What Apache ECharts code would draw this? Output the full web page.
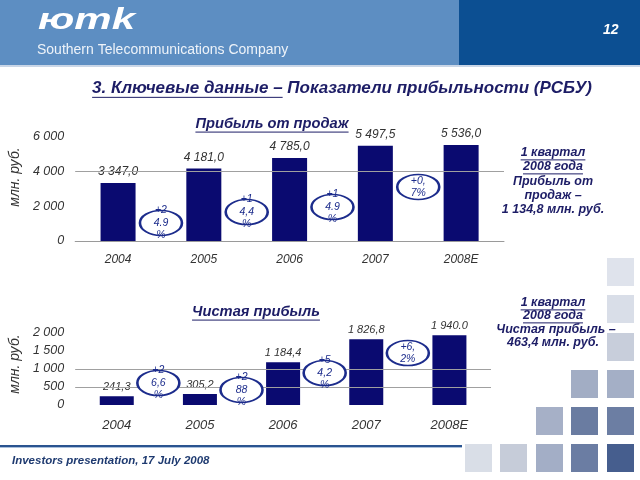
<!DOCTYPE html>
<html><head><meta charset="utf-8">
<script src="https://cdn.jsdelivr.net/npm/echarts@6/dist/echarts.min.js"></script>
<style>html,body{margin:0;padding:0;background:#fff}#c{width:640px;height:480px}</style>
</head><body><div id="c"></div>
<script>
// ---------- data ----------
const years = ['2004', '2005', '2006', '2007', '2008E'];
const salesProfit = [3347.0, 4181.0, 4785.0, 5497.5, 5536.0];
const salesLabels = ['3 347,0', '4 181,0', '4 785,0', '5 497,5', '5 536,0'];
const netProfit = [241.3, 305.2, 1184.4, 1826.8, 1940.0];
const netLabels = ['241,3', '305,2', '1 184,4', '1 826,8', '1 940.0'];
const salesTicks = ['0', '2 000', '4 000', '6 000'];
const netTicks = ['0', '500', '1 000', '1 500', '2 000'];
const salesGrowth = ['+2\n4.9\n%', '+1\n4,4\n%', '+1\n4.9\n%', '+0,\n7%'];
const netGrowth = ['+2\n6,6\n%', '+2\n88\n%', '+5\n4,2\n%', '+6,\n2%'];
const salesBadgeLevel = [1040, 1670, 1960, 3120];
const netBadgeLevel = [611, 417, 889, 1444];

// ---------- helpers ----------
const NAVY = '#1d1d66';
const BAR = '#0a0a70';
const RING = '#1c2c8c';
const TXT = '#333333';
const FONT = '"Liberation Sans", Arial, sans-serif';
const mctx = document.createElement('canvas').getContext('2d');
function tw(text, font) { mctx.font = font; return mctx.measureText(text).width; }

const graphics = [];
function text(t, x, y, size, opts) {
  opts = opts || {};
  const weight = opts.weight || 'bold';
  const style = opts.style || 'italic';
  const font = style + ' ' + weight + ' ' + size + 'px ' + FONT;
  const align = opts.align || 'left';
  graphics.push({
    type: 'text', z: 10, scaleX: opts.scaleX || 1, scaleY: opts.scaleY || 1,
    x: opts.scaleX ? x : 0, y: opts.scaleX ? y : 0,
    style: { text: t, x: opts.scaleX ? 0 : x, y: opts.scaleX ? 0 : y, font: font, fill: opts.fill || NAVY, align: align, verticalAlign: 'middle' }
  });
  if (opts.underline) {
    const w = tw(opts.underPart || t, font);
    let x0 = align === 'center' ? x - tw(t, font) / 2 : x;
    graphics.push({ type: 'line', z: 10, shape: { x1: x0, y1: y + size * 0.55, x2: x0 + w, y2: y + size * 0.55 }, style: { stroke: opts.fill || NAVY, lineWidth: 1 } });
  }
}
function rect(x, y, w, h, c) {
  graphics.push({ type: 'rect', z: 1, shape: { x: x, y: y, width: w, height: h }, style: { fill: c } });
}

// header
rect(0, 0, 459, 65, '#5d8ec2');
rect(459, 0, 181, 65, '#0c4f92');
rect(0, 65, 640, 2, '#c9d6e7');
text('юmk', 38, 21, 29, { fill: '#ffffff', scaleX: 1.45 });
text('Southern Telecommunications Company', 37, 50, 14, { weight: 'normal', style: 'normal', fill: '#eef3f9' });
text('12', 603, 30, 14, { fill: '#ffffff' });

// main title
text('3. Ключевые данные – Показатели прибыльности (РСБУ)', 342, 88, 17, { align: 'center', underline: true, underPart: '3. Ключевые данные –' });

// chart titles
text('Прибыль от продаж', 272, 124, 14.7, { align: 'center', underline: true });
text('Чистая прибыль', 256, 312, 14.7, { align: 'center', underline: true });

// side notes
const sideFont = 12.5;
text('1 квартал', 553, 153, sideFont, { align: 'center', underline: true });
text('2008 года', 553, 167, sideFont, { align: 'center', underline: true });
text('Прибыль от', 553, 182, sideFont, { align: 'center' });
text('продаж –', 553, 196, sideFont, { align: 'center' });
text('1 134,8 млн. руб.', 553, 210, sideFont, { align: 'center' });
text('1 квартал', 553, 303, sideFont, { align: 'center', underline: true });
text('2008 года', 553, 316, sideFont, { align: 'center', underline: true });
text('Чистая прибыль –', 556, 330, sideFont, { align: 'center' });
text('463,4 млн. руб.', 553, 343, sideFont, { align: 'center' });

// decorative squares
const sq = [
  [607, 258, '#dfe3ec'], [607, 295, '#d9dee8'], [607, 333, '#c8cedb'], [607, 370, '#a4afc6'], [607, 407, '#6c7ea3'], [607, 444, '#465e8e'],
  [571, 370, '#a2adc4'], [571, 407, '#6a7ca1'], [571, 444, '#6b7da3'],
  [536, 407, '#a6b0c7'], [536, 444, '#a3aec6'],
  [500, 444, '#c6ccd9'], [465, 444, '#d9dee7']
];
sq.forEach(s => rect(s[0], s[1], 27, 28, s[2]));

// footer
rect(0, 445, 462, 2, '#2a5490');
rect(0, 447, 462, 1, '#aac0dc');
text('Investors presentation, 17 July 2008', 12, 461, 11.5, { fill: '#1e3a70' });

// ---------- chart ----------
const axisLabel = { color: TXT, fontStyle: 'italic', fontFamily: FONT, fontSize: 12 };
function badgeData(levels) { return levels.map((v, i) => [i + 0.5, v]); }
function badgeSeries(xi, yi, levels, labels) {
  return {
    type: 'scatter', xAxisIndex: xi, yAxisIndex: yi, z: 5,
    data: badgeData(levels), symbol: 'circle', symbolSize: [42, 25],
    itemStyle: { color: '#ffffff', borderColor: RING, borderWidth: 2, opacity: 1 },
    label: { show: true, position: 'inside', formatter: p => labels[p.dataIndex], color: RING, fontStyle: 'italic', fontFamily: FONT, fontSize: 10.5, lineHeight: 12.5 },
    emphasis: { disabled: true }, silent: true
  };
}

const option = {
  animation: false,
  graphic: graphics,
  grid: [
    { left: 74, right: 136, top: 137, height: 104 },
    { left: 74, right: 149, top: 333, height: 72 }
  ],
  xAxis: [
    { type: 'category', gridIndex: 0, data: years, axisLine: { show: true, lineStyle: { color: '#9a9a9a' } }, axisTick: { show: false }, axisLabel: Object.assign({}, axisLabel, { margin: 13 }) },
    { type: 'value', gridIndex: 0, min: -0.5, max: 4.5, show: false },
    { type: 'category', gridIndex: 1, data: years, axisLine: { show: false }, axisTick: { show: false }, axisLabel: Object.assign({}, axisLabel, { fontSize: 13, margin: 14 }) },
    { type: 'value', gridIndex: 1, min: -0.5, max: 4.5, show: false }
  ],
  yAxis: [
    { type: 'value', gridIndex: 0, min: 0, max: 6000, interval: 2000, splitLine: { show: false }, axisLine: { show: false }, axisTick: { show: false },
      axisLabel: Object.assign({}, axisLabel, { fontSize: 12.5, margin: 11, formatter: v => salesTicks[Math.round(v / 2000)] }),
      name: 'млн. руб.', nameLocation: 'middle', nameGap: 47, nameRotate: 90,
      nameTextStyle: { color: TXT, fontStyle: 'italic', fontFamily: FONT, fontSize: 14, padding: [0, 0, 0, 24] } },
    { type: 'value', gridIndex: 1, min: 0, max: 2000, interval: 500, splitLine: { show: false }, axisLine: { show: false }, axisTick: { show: false },
      axisLabel: Object.assign({}, axisLabel, { fontSize: 12.5, margin: 11, formatter: v => netTicks[Math.round(v / 500)] }),
      name: 'млн. руб.', nameLocation: 'middle', nameGap: 47, nameRotate: 90,
      nameTextStyle: { color: TXT, fontStyle: 'italic', fontFamily: FONT, fontSize: 14, padding: [0, 0, 0, 10] } }
  ],
  series: [
    { type: 'bar', xAxisIndex: 0, yAxisIndex: 0, data: salesProfit, barWidth: 35, itemStyle: { color: BAR },
      label: { show: true, position: 'top', distance: 5, formatter: p => salesLabels[p.dataIndex], color: TXT, fontStyle: 'italic', fontFamily: FONT, fontSize: 12 },
      markLine: { silent: true, symbol: 'none', label: { show: false }, lineStyle: { color: '#a0a0a0', type: 'solid', width: 1 }, data: [{ yAxis: 4000 }] } },
    badgeSeries(1, 0, salesBadgeLevel, salesGrowth),
    { type: 'bar', xAxisIndex: 2, yAxisIndex: 1, data: netProfit, barWidth: 34, itemStyle: { color: BAR },
      label: { show: true, position: 'top', distance: 4, formatter: p => netLabels[p.dataIndex], color: TXT, fontStyle: 'italic', fontFamily: FONT, fontSize: 11 },
      markLine: { silent: true, symbol: 'none', label: { show: false }, lineStyle: { color: '#a0a0a0', type: 'solid', width: 1 }, data: [{ yAxis: 500 }, { yAxis: 1000 }] } },
    badgeSeries(3, 1, netBadgeLevel, netGrowth)
  ]
};
const chart = echarts.init(document.getElementById('c'));
chart.setOption(option);
</script>
</body></html>
